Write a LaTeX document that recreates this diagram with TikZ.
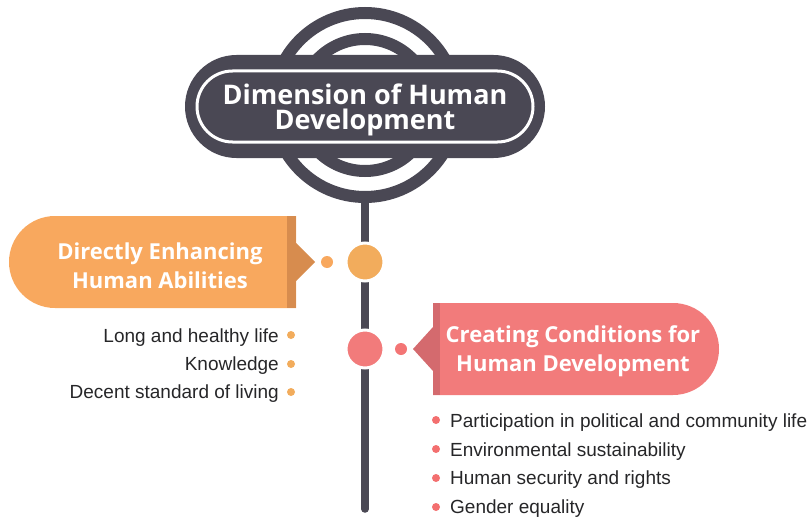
\documentclass[tikz,border=0pt]{standalone}
\usepackage{fontspec}
\setmainfont{Liberation Sans}
\newfontfamily\headfont{Open Sans}
\definecolor{slate}{RGB}{74,72,84}
\definecolor{apricot}{RGB}{248,168,94}
\definecolor{apricotdark}{RGB}{215,140,78}
\definecolor{apricotdot}{RGB}{242,172,92}
\definecolor{salmon}{RGB}{242,123,123}
\definecolor{salmondark}{RGB}{212,106,110}
\definecolor{bodytext}{RGB}{38,38,40}
\begin{document}
\begin{tikzpicture}[x=1pt,y=-1pt,
  hub/.style={circle,draw=white,line width=3,inner sep=0pt,minimum size=38},
  knot/.style={circle,inner sep=0pt,minimum size=12},
  bullet/.style={circle,inner sep=0pt,minimum size=8},
  headtext/.style={text=white,align=center,font=\headfont\bfseries\fontsize{22}{29}\selectfont},
  itemtext/.style={text=bodytext,inner sep=0pt,font=\fontsize{19}{21}\selectfont}]
\path[use as bounding box] (0,0) rectangle (810,516);
% stem and rings
\coordinate (stemtop) at (365,195);
\coordinate (stemend) at (365,509);
\draw[slate,line width=7.5,line cap=round] (stemtop) -- (stemend);
\draw[slate,line width=12] (365,105) circle[radius=92];
\draw[slate,line width=12] (365,105) circle[radius=66];
% title pill
\fill[slate,rounded corners=51.5] (185,55) rectangle (545,158);
\draw[white,line width=3,rounded corners=35.5] (197,71) rectangle (533,142);
\node[headtext,font=\headfont\bfseries\fontsize{27}{25.5}\selectfont] (title) at (365,110) {Dimension of Human\\Development};
% left banner
\fill[apricot] (296,216) [rounded corners=46] -- (9,216) -- (9,308) [sharp corners] -- (296,308) -- cycle;
\fill[apricotdark] (287,216) rectangle (296,308);
\fill[apricotdark] (296,243) -- (315,262) -- (296,281) -- cycle;
\node[headtext] (abilities) at (160,266) {Directly Enhancing\\Human Abilities};
\node[knot,fill=apricot] (abilitydot) at (327,262) {};
\node[hub,fill=apricotdot] (abilityhub) at (365,262) {};
% right banner
\fill[salmon] (433,303) [rounded corners=46] -- (719,303) -- (719,395) [sharp corners] -- (433,395) -- cycle;
\fill[salmondark] (433,303) rectangle (440,395);
\fill[salmondark] (433,327) -- (413,349) -- (433,371) -- cycle;
\node[headtext] (conditions) at (573,351) {Creating Conditions for\\Human Development};
\node[knot,fill=salmon!95!red] (conditiondot) at (401,349) {};
\node[hub,fill=salmon] (conditionhub) at (365,349) {};
% left items
\node[bullet,fill=apricotdot] (life) at (291,335) {};
\node[bullet,fill=apricotdot] (knowledge) at (291,364) {};
\node[bullet,fill=apricotdot] (living) at (291,392) {};
\node[itemtext,anchor=base east] (lifetext) at (279,342) {Long and healthy life};
\node[itemtext,anchor=base east] (knowledgetext) at (279,370) {Knowledge};
\node[itemtext,anchor=base east] (livingtext) at (279,398) {Decent standard of living};
% right items
\node[bullet,fill=salmon!90!red] (participation) at (436,420) {};
\node[bullet,fill=salmon!90!red] (environment) at (436,449) {};
\node[bullet,fill=salmon!90!red] (security) at (436,478) {};
\node[bullet,fill=salmon!90!red] (gender) at (436,507) {};
\node[itemtext,anchor=base west] (participationtext) at (450,427) {Participation in political and community life};
\node[itemtext,anchor=base west] (environmenttext) at (450,456) {Environmental sustainability};
\node[itemtext,anchor=base west] (securitytext) at (450,484) {Human security and rights};
\node[itemtext,anchor=base west] (gendertext) at (450,513) {Gender equality};
\end{tikzpicture}
\end{document}
